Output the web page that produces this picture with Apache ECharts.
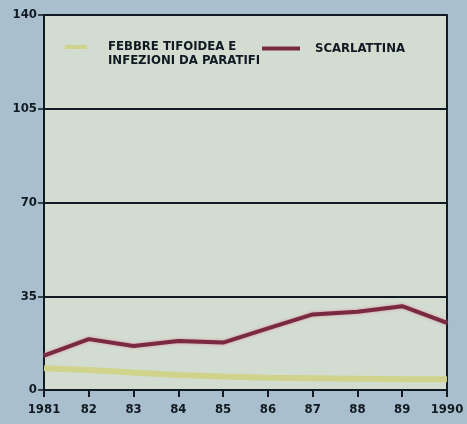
<!DOCTYPE html>
<html>
<head>
<meta charset="utf-8">
<script src="https://cdn.jsdelivr.net/npm/echarts@6/dist/echarts.min.js"></script>
<style>
  html, body { margin: 0; padding: 0; background: #a9bfcd; }
  #chart { width: 467px; height: 424px; }
</style>
</head>
<body>
<div id="chart"></div>
<script>
var years = ['1981', '82', '83', '84', '85', '86', '87', '88', '89', '1990'];
var tifoidea = [8.1, 7.5, 6.5, 5.6, 5.0, 4.6, 4.4, 4.2, 4.0, 4.0];
var scarlattina = [12.8, 19.0, 16.4, 18.3, 17.7, 23.0, 28.2, 29.2, 31.3, 25.1];
var yTicks = [0, 35, 70, 105, 140];

var fontFam = '"Liberation Sans Narrow", "DejaVu Sans Condensed", sans-serif';
var ink = '#111a22';

// legend bar sitting level with the first text line
var topBar = 'path://M0,0h0.01v0.01h-0.01z M0,4h22v4h-22z M0,25.99h0.01v0.01h-0.01z';

var chart = echarts.init(document.getElementById('chart'));

var option = {
    backgroundColor: '#a9bfcd',
    animation: false,
    legend: [{
        left: 65,
        top: 40,
        padding: 0,
        itemWidth: 22,
        itemHeight: 26,
        icon: topBar,
        data: [{ name: 'FEBBRE TIFOIDEA E\nINFEZIONI DA PARATIFI', itemStyle: { color: '#cfd38c' } }],
        textStyle: {
            fontFamily: fontFam,
            fontWeight: 'bold',
            fontSize: 13,
            color: ink,
            lineHeight: 14,
            padding: [0, 0, 0, 16]
        }
    }, {
        left: 257,
        top: 37,
        itemWidth: 38,
        itemHeight: 4,
        icon: 'rect',
        data: [{ name: 'SCARLATTINA', itemStyle: { color: '#7a2a40' } }],
        textStyle: {
            fontFamily: fontFam,
            fontWeight: 'bold',
            fontSize: 13,
            color: ink,
            padding: [0, 0, 0, 10]
        }
    }],
    grid: {
        left: 44,
        right: 20,
        top: 15,
        bottom: 34,
        show: true,
        backgroundColor: '#d3dcd0',
        borderColor: 'transparent'
    },
    xAxis: {
        type: 'category',
        boundaryGap: false,
        data: years,
        axisLine: { lineStyle: { color: ink, width: 2 } },
        axisTick: { show: true, length: 7, lineStyle: { color: ink, width: 2 } },
        axisLabel: {
            fontFamily: fontFam,
            fontWeight: 'bold',
            fontSize: 13,
            color: ink,
            margin: 13
        },
        splitLine: { show: false }
    },
    yAxis: [{
        type: 'value',
        min: 0,
        max: 140,
        interval: 35,
        axisLine: { show: true, lineStyle: { color: ink, width: 2 } },
        axisTick: { show: true, length: 6, lineStyle: { color: ink, width: 1.5 } },
        axisLabel: {
            fontFamily: fontFam,
            fontWeight: 'bold',
            fontSize: 13,
            color: ink,
            margin: 7,
            formatter: function (v) { return yTicks.indexOf(v) >= 0 ? String(v) : ''; }
        },
        splitLine: { show: true, lineStyle: { color: ink, width: 2 } }
    }, {
        type: 'value',
        position: 'right',
        min: 0,
        max: 140,
        interval: 35,
        axisLine: { show: true, lineStyle: { color: ink, width: 2 } },
        axisTick: { show: false },
        axisLabel: { show: false },
        splitLine: { show: false }
    }],
    series: [{
        name: 'FEBBRE TIFOIDEA E\nINFEZIONI DA PARATIFI',
        type: 'line',
        data: tifoidea,
        symbol: 'none',
        lineStyle: { color: '#cfd38c', width: 6 },
        itemStyle: { color: '#cfd38c' },
        z: 3
    }, {
        name: 'SCARLATTINA',
        type: 'line',
        data: scarlattina,
        symbol: 'none',
        lineStyle: {
            color: '#7a2a40',
            width: 4,
            shadowColor: 'rgba(214,120,150,0.8)',
            shadowBlur: 3
        },
        itemStyle: { color: '#7a2a40' },
        z: 4
    }]
};

chart.setOption(option);
</script>
</body>
</html>
